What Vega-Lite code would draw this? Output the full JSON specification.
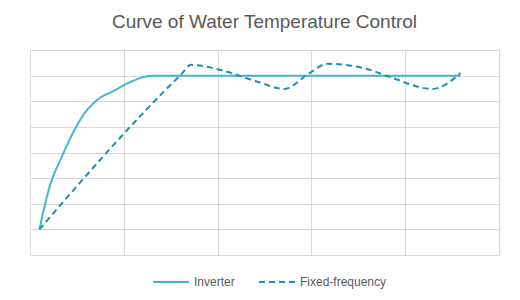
{
  "$schema": "https://vega.github.io/schema/vega-lite/v6.json",
  "autosize": "none",
  "width": 469,
  "height": 205,
  "padding": {"left": 30, "top": 50, "right": 21, "bottom": 45},
  "background": "white",
  "title": {
    "text": "Curve of Water Temperature Control",
    "font": "Liberation Sans",
    "fontSize": 19,
    "fontWeight": "normal",
    "color": "#595959",
    "offset": 18
  },
  "config": {
    "view": {"stroke": "#d9d9d9", "strokeWidth": 1}
  },
  "data": {
    "values": [
      {"x": 0.1, "y": 1.0, "series": "Inverter"},
      {"x": 0.21, "y": 2.67, "series": "Inverter"},
      {"x": 0.34, "y": 3.84, "series": "Inverter"},
      {"x": 0.43, "y": 4.56, "series": "Inverter"},
      {"x": 0.57, "y": 5.47, "series": "Inverter"},
      {"x": 0.71, "y": 6.03, "series": "Inverter"},
      {"x": 0.9, "y": 6.42, "series": "Inverter"},
      {"x": 1.1, "y": 6.8, "series": "Inverter"},
      {"x": 1.31, "y": 7.0, "series": "Inverter"},
      {"x": 4.59, "y": 7.0, "series": "Inverter"},
      {"x": 0.1, "y": 1.0, "series": "Fixed-frequency"},
      {"x": 1.6, "y": 7.0, "series": "Fixed-frequency"},
      {"x": 1.72, "y": 7.42, "series": "Fixed-frequency"},
      {"x": 2.02, "y": 7.23, "series": "Fixed-frequency"},
      {"x": 2.45, "y": 6.73, "series": "Fixed-frequency"},
      {"x": 2.71, "y": 6.48, "series": "Fixed-frequency"},
      {"x": 2.98, "y": 7.1, "series": "Fixed-frequency"},
      {"x": 3.17, "y": 7.46, "series": "Fixed-frequency"},
      {"x": 3.62, "y": 7.23, "series": "Fixed-frequency"},
      {"x": 3.87, "y": 6.9, "series": "Fixed-frequency"},
      {"x": 4.29, "y": 6.48, "series": "Fixed-frequency"},
      {"x": 4.59, "y": 7.1, "series": "Fixed-frequency"}
    ]
  },
  "mark": {"type": "line", "interpolate": "monotone", "strokeWidth": 2},
  "encoding": {
    "x": {
      "field": "x",
      "type": "quantitative",
      "scale": {"domain": [0, 5], "nice": false, "zero": false},
      "axis": {"title": null, "labels": false, "ticks": false, "domain": false, "values": [0, 1, 2, 3, 4, 5], "gridColor": "#d9d9d9"}
    },
    "y": {
      "field": "y",
      "type": "quantitative",
      "scale": {"domain": [0, 8], "nice": false},
      "axis": {"title": null, "labels": false, "ticks": false, "domain": false, "values": [0, 1, 2, 3, 4, 5, 6, 7, 8], "gridColor": "#d9d9d9"}
    },
    "color": {
      "field": "series",
      "type": "nominal",
      "scale": {"domain": ["Inverter", "Fixed-frequency"], "range": ["#45b7d1", "#1f8fb3"]},
      "legend": {
        "title": null,
        "orient": "none",
        "legendX": 122,
        "legendY": 213,
        "direction": "horizontal",
        "labelFont": "Liberation Sans",
        "labelFontSize": 12,
        "labelColor": "#595959",
        "symbolType": "stroke",
        "symbolSize": 1296,
        "symbolStrokeWidth": 2,
        "labelOffset": 4,
        "columnPadding": 20
      }
    },
    "strokeDash": {
      "field": "series",
      "type": "nominal",
      "scale": {"domain": ["Inverter", "Fixed-frequency"], "range": [[1, 0], [6, 4]]},
      "legend": null
    }
  }
}
